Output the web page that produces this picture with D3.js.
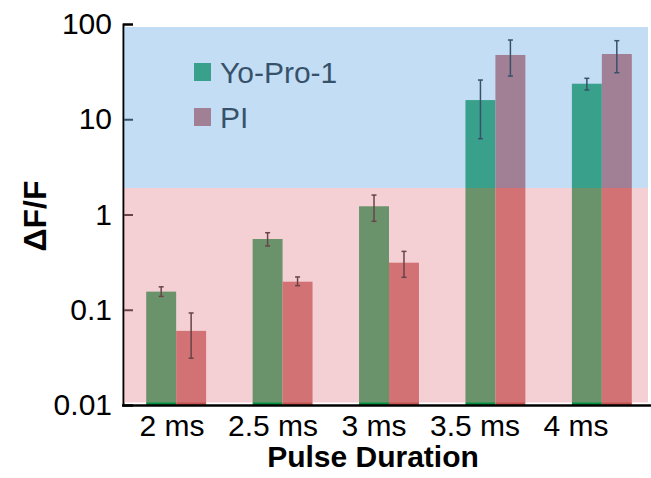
<!DOCTYPE html>
<html>
<head>
<meta charset="utf-8">
<script src="https://cdn.jsdelivr.net/npm/d3@7"></script>
<style>
  body { margin: 0; background: #fff; }
  text { font-family: Arial, "Liberation Sans", sans-serif; }
</style>
</head>
<body>
<div class="js-chart"></div>
<script>
'use strict';

// data
const durations = ['2 ms', '2.5 ms', '3 ms', '3.5 ms', '4 ms'];
const seriesNames = ['Yo-Pro-1', 'PI'];
const yoProMean = [0.155, 0.553, 1.22, 15.9, 23.6];
const yoProLow = [0.138, 0.467, 0.848, 6.25, 20.3];
const yoProHigh = [0.174, 0.644, 1.60, 25.8, 26.9];
const piMean = [0.060, 0.197, 0.312, 47.3, 48.4];
const piLow = [0.031, 0.179, 0.219, 28.4, 30.8];
const piHigh = [0.0925, 0.221, 0.41, 67.9, 66.8];
const yTickValues = [0.01, 0.1, 1, 10, 100];
const yTickLabels = ['0.01', '0.1', '1', '10', '100'];
// shaded zones behind the bars (lower and upper)
const zoneBounds = [[0.01, 1.9], [1.9, 93]];

const barColors = ['#059140', '#c25451'];
const zoneColors = ['#e7979f', '#7ab3e9'];

const svgWidth = 651;
const svgHeight = 478;

const svg = d3.select('.js-chart')
  .append('svg')
  .attr('width', svgWidth)
  .attr('height', svgHeight);

const xScale = d3.scaleBand()
  .domain(durations)
  .range([123, 655])
  .paddingInner(0.437)
  .paddingOuter(0.218);

const xSub = d3.scaleBand()
  .domain(seriesNames)
  .range([0, xScale.bandwidth()]);

// the tick labels sit a bit left of the bar groups in the original
const xLabelScale = d3.scalePoint()
  .domain(durations)
  .range([171.5, 575.5]);

const yScale = d3.scaleLog()
  .domain([0.01, 100])
  .range([405, 24]);

// build rows for the bars
const rows = [];
durations.forEach(function(d, i) {
  rows.push({ cat: d, series: seriesNames[0], mean: yoProMean[i], low: yoProLow[i], high: yoProHigh[i], color: barColors[0] });
  rows.push({ cat: d, series: seriesNames[1], mean: piMean[i], low: piLow[i], high: piHigh[i], color: barColors[1] });
});

// bars
svg.append('g')
  .selectAll('rect')
  .data(rows)
  .enter()
  .append('rect')
  .attr('x', d => xScale(d.cat) + xSub(d.series))
  .attr('y', d => yScale(d.mean))
  .attr('width', xSub.bandwidth())
  .attr('height', d => yScale(0.01) - yScale(d.mean))
  .attr('fill', d => d.color);

// error bars
const capW = 2.5;
const err = svg.append('g')
  .attr('stroke', '#000')
  .attr('stroke-width', 1.5);

rows.forEach(function(d) {
  const cx = xScale(d.cat) + xSub(d.series) + xSub.bandwidth() / 2;
  err.append('line')
    .attr('x1', cx).attr('x2', cx)
    .attr('y1', yScale(d.high)).attr('y2', yScale(d.low));
  err.append('line')
    .attr('x1', cx - capW).attr('x2', cx + capW)
    .attr('y1', yScale(d.high)).attr('y2', yScale(d.high));
  err.append('line')
    .attr('x1', cx - capW).attr('x2', cx + capW)
    .attr('y1', yScale(d.low)).attr('y2', yScale(d.low));
});

// legend
const legend = svg.append('g')
  .attr('transform', 'translate(194,63)');

seriesNames.forEach(function(name, i) {
  const row = legend.append('g')
    .attr('transform', `translate(0,${i * 45})`);
  row.append('rect')
    .attr('width', 17)
    .attr('height', 18)
    .attr('fill', barColors[i]);
  row.append('text')
    .attr('x', 26)
    .attr('y', 20)
    .attr('font-size', 30)
    .attr('fill', '#000')
    .text(name);
});

// y axis, ticks point inward
const yAxis = d3.axisLeft(yScale)
  .tickValues(yTickValues)
  .tickFormat((d, i) => yTickLabels[i])
  .tickSizeInner(-10)
  .tickSizeOuter(-10)
  .tickPadding(11);

const yAxisG = svg.append('g')
  .attr('transform', 'translate(123,0)')
  .call(yAxis);

yAxisG.selectAll('line, path')
  .attr('stroke', '#000')
  .attr('stroke-width', 2);

yAxisG.selectAll('text')
  .attr('font-size', 30)
  .attr('fill', '#000');

// translucent zones laid over everything inside the plot
svg.append('g')
  .selectAll('rect')
  .data(zoneBounds)
  .enter()
  .append('rect')
  .attr('x', 124)
  .attr('y', d => yScale(d[1]))
  .attr('width', 648 - 124)
  .attr('height', (d, i) => yScale(d[0]) - yScale(d[1]) - (i === 0 ? 2.5 : 0))
  .attr('fill', (d, i) => zoneColors[i])
  .attr('fill-opacity', 0.45);

// x axis baseline
svg.append('line')
  .attr('x1', 122)
  .attr('x2', svgWidth)
  .attr('y1', yScale(0.01) + 0.5)
  .attr('y2', yScale(0.01) + 0.5)
  .attr('stroke', '#000')
  .attr('stroke-width', 2.5);

const xAxisG = svg.append('g')
  .attr('transform', `translate(0,${yScale(0.01)})`)
  .call(d3.axisBottom(xLabelScale).tickSize(0).tickPadding(10));

xAxisG.select('.domain').remove();
xAxisG.selectAll('text')
  .attr('font-size', 30)
  .attr('fill', '#000');

// axis titles
svg.append('text')
  .attr('transform', 'translate(46,216) rotate(-90)')
  .attr('text-anchor', 'middle')
  .attr('font-size', 32)
  .attr('font-weight', 'bold')
  .text('ΔF/F');

svg.append('text')
  .attr('x', 373)
  .attr('y', 467)
  .attr('text-anchor', 'middle')
  .attr('font-size', 30)
  .attr('font-weight', 'bold')
  .text('Pulse Duration');
</script>
</body>
</html>
